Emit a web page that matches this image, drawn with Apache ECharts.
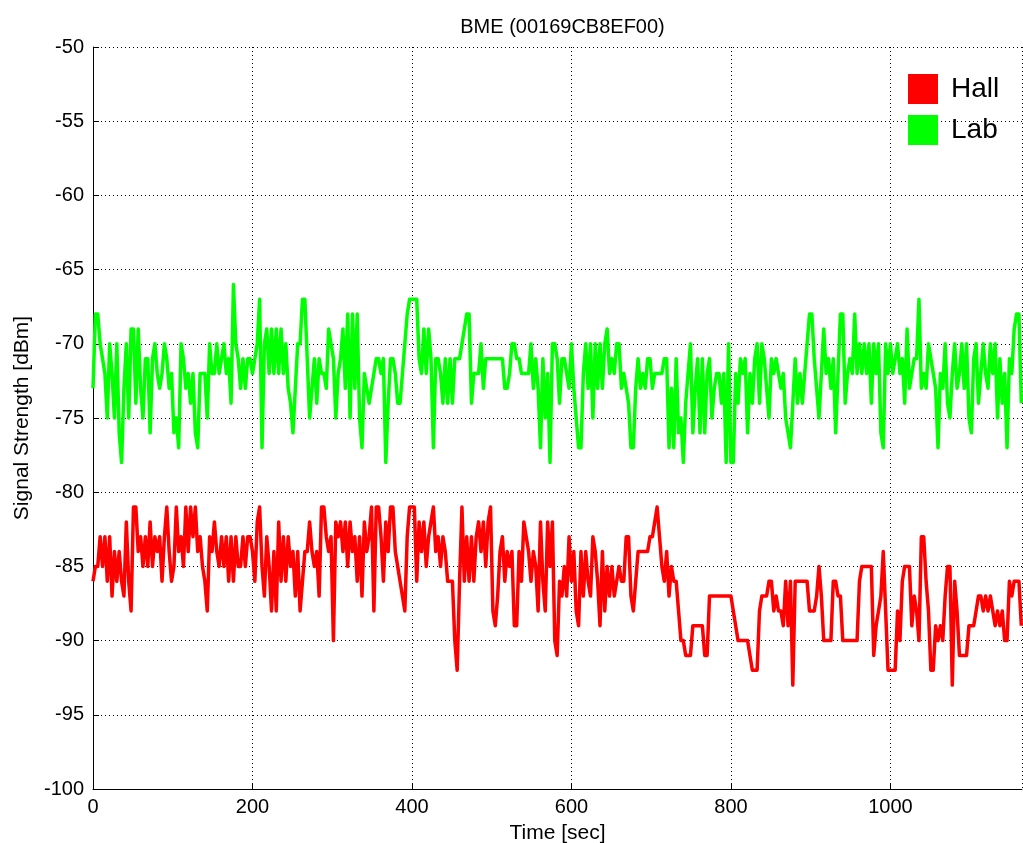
<!DOCTYPE html>
<html>
<head>
<meta charset="utf-8">
<title>BME (00169CB8EF00)</title>
<script src="https://cdn.jsdelivr.net/npm/echarts@6/dist/echarts.min.js"></script>
<style>
  html, body { margin: 0; padding: 0; background: #fff; }
  #chart { width: 1023px; height: 843px; }
</style>
</head>
<body>
<div id="chart"></div>
<script>
// RSSI log of one device, sampled at a fixed period (seconds)
const TITLE = 'BME (00169CB8EF00)';
const SAMPLE_PERIOD_SEC = 2.985;
const SERIES_NAMES = ['Hall', 'Lab'];
const X_RANGE = [0, 1165];
const Y_RANGE = [-100, -50];

// Signal strength in the hall [dBm]
const hallDbm = [
  -86,-85,-85,-83,-85,-83,-86,-83,-87,-84,-86,-84,-86,-87,-82,-86,-88,-81,-81,-84,-83,-85,-83,-85,-82,-85,-83,-84,-83,-86,-83,-81,-84,-86,-85,-81,-84,-83,-85,-81,-84,-81,-83,-81,-84,-83,-85,-86,-88,-83,-84,-82,-84,-85,-83,-85,-83,-86,-83,-86,-83,-85,-85,-83,-85,-83,-83,
  -84,-86,-82,-81,-85,-87,-83,-85,-88,-84,-88,-82,-86,-83,-86,-83,-85,-84,-87,-84,-88,-86,-84,-84,-82,-84,-85,-84,-87,-81,-81,-83,-84,-83,-90,-82,-83,-82,-84,-82,-85,-82,-84,-83,-86,-83,-87,-82,-84,-83,-81,-88,-81,-81,-83,-86,-82,-84,-81,-81,-84,-85,-86,-87,-88,-83,-81,
  -81,-81,-86,-82,-84,-82,-85,-83,-82,-81,-84,-83,-85,-83,-84,-86,-86,-86,-90,-92,-86,-81,-86,-83,-86,-83,-86,-83,-82,-84,-82,-85,-82,-81,-88,-89,-87,-84,-83,-86,-84,-85,-84,-89,-89,-84,-86,-82,-83,-84,-86,-84,-85,-88,-82,-86,-88,-82,-85,-82,-90,-91,-86,-87,-85,-87,-83,
  -86,-84,-88,-89,-84,-87,-84,-86,-87,-83,-84,-86,-89,-84,-88,-85,-87,-85,-87,-86,-85,-86,-86,-83,-83,-87,-88,-86,-84,-84,-84,-84,-84,-83,-83,-82,-81,-83,-85,-86,-84,-87,-85,-86,-86,-88,-90,-90,-91,-91,-91,-89,-89,-89,-89,-89,-91,-91,-87,-87,-87,-87,-87,-87,-87,-87,-87,
  -87,-88,-89,-90,-90,-90,-90,-90,-91,-92,-92,-92,-88,-87,-87,-87,-86,-86,-88,-87,-88,-88,-89,-86,-89,-86,-93,-86,-86,-86,-86,-86,-86,-88,-88,-88,-87,-85,-87,-90,-90,-90,-90,-86,-86,-87,-87,-90,-90,-90,-90,-90,-90,-90,-86,-85,-85,-85,-85,-85,-91,-89,-88,-87,-84,-88,-92,
  -92,-92,-92,-88,-90,-86,-85,-85,-85,-89,-87,-88,-90,-83,-83,-86,-88,-92,-92,-89,-90,-89,-90,-87,-85,-85,-93,-86,-88,-91,-91,-91,-91,-89,-89,-89,-88,-87,-87,-88,-87,-88,-87,-88,-89,-88,-89,-88,-90,-90,-86,-87,-86,-86,-86,-89
];

// Signal strength in the lab [dBm]
const labDbm = [
  -73,-68,-68,-70,-71,-72,-75,-70,-72,-75,-70,-76,-78,-73,-70,-75,-69,-69,-74,-69,-73,-75,-71,-71,-76,-71,-70,-72,-73,-72,-70,-71,-73,-72,-76,-75,-77,-70,-71,-73,-72,-74,-72,-76,-77,-72,-72,-72,-75,-70,-72,-72,-70,-72,-71,-70,-72,-71,-74,-66,-70,-71,-73,-71,-73,-71,-71,
  -72,-71,-70,-67,-77,-70,-69,-72,-69,-72,-69,-72,-69,-72,-70,-73,-74,-76,-73,-70,-70,-67,-67,-71,-75,-73,-71,-74,-71,-72,-72,-73,-69,-70,-71,-75,-72,-71,-69,-73,-68,-75,-68,-73,-68,-75,-77,-72,-73,-74,-73,-72,-71,-71,-72,-71,-78,-74,-71,-71,-72,-74,-74,-72,-70,-68,-67,
  -67,-67,-67,-71,-72,-69,-72,-69,-71,-77,-71,-71,-72,-74,-71,-74,-71,-74,-71,-71,-71,-70,-69,-68,-68,-74,-72,-72,-72,-70,-73,-71,-71,-71,-71,-71,-71,-71,-71,-73,-73,-72,-70,-70,-71,-71,-72,-72,-72,-72,-70,-73,-71,-73,-77,-71,-75,-72,-78,-70,-70,-71,-74,-71,-71,-72,-73,
  -70,-73,-75,-77,-77,-72,-70,-73,-70,-75,-70,-73,-70,-73,-70,-69,-72,-71,-72,-70,-70,-73,-72,-73,-74,-77,-77,-73,-71,-73,-72,-73,-71,-71,-73,-72,-72,-72,-72,-71,-71,-77,-73,-77,-71,-76,-75,-78,-74,-72,-70,-76,-73,-71,-76,-71,-76,-72,-71,-75,-73,-72,-72,-74,-72,-78,-70,
  -78,-78,-72,-74,-71,-72,-71,-76,-72,-74,-71,-70,-74,-70,-71,-73,-75,-71,-72,-71,-72,-73,-72,-75,-76,-77,-74,-71,-74,-72,-74,-72,-70,-68,-68,-71,-73,-75,-72,-69,-72,-71,-73,-71,-76,-72,-68,-68,-74,-72,-71,-72,-68,-72,-70,-72,-70,-72,-70,-74,-70,-72,-70,-76,-77,-70,-72,
  -70,-72,-71,-70,-72,-71,-74,-69,-73,-72,-71,-71,-67,-73,-72,-73,-70,-71,-72,-73,-77,-72,-73,-70,-74,-75,-72,-70,-73,-72,-70,-73,-70,-75,-76,-71,-70,-74,-72,-70,-72,-73,-70,-72,-70,-75,-71,-74,-72,-77,-71,-72,-69,-68,-68,-74
];

const FONT = '"Liberation Sans", Arial, Helvetica, sans-serif';

function toPoints(values) {
  return values.map((v, i) => [+(i * SAMPLE_PERIOD_SEC).toFixed(2), v]);
}

const chart = echarts.init(document.getElementById('chart'), null, { renderer: 'canvas' });

const dotted = { color: '#000', width: 1, type: [1, 3] };
const GRID = { left: 93, right: 1, top: 47, bottom: 54 };
const plotCenterX = GRID.left + (1023 - GRID.left - GRID.right) / 2;

chart.setOption({
  backgroundColor: '#fff',
  animation: false,
  title: {
    text: TITLE,
    left: plotCenterX,
    textAlign: 'center',
    top: 12,
    textStyle: { fontFamily: FONT, fontSize: 20, fontWeight: 'normal', color: '#000' }
  },
  legend: {
    orient: 'vertical',
    left: 903,
    top: 69,
    icon: 'rect',
    itemWidth: 30,
    itemHeight: 30,
    itemGap: 11,
    textStyle: { fontFamily: FONT, fontSize: 28, color: '#000', padding: [0, 0, 0, 8] },
    data: SERIES_NAMES
  },
  // fixed plot box; the axis name may run past the bottom edge
  grid: Object.assign({ containLabel: false, outerBoundsMode: 'none' }, GRID),
  xAxis: {
    type: 'value',
    min: X_RANGE[0],
    max: X_RANGE[1],
    interval: 200,
    name: 'Time [sec]',
    nameLocation: 'middle',
    nameGap: 34,
    nameTextStyle: { fontFamily: FONT, fontSize: 21, color: '#000' },
    axisLine: { show: true, lineStyle: { color: '#000', width: 1 } },
    axisTick: { show: true, inside: true, length: 6, lineStyle: { color: '#000' } },
    axisLabel: {
      fontFamily: FONT, fontSize: 20, color: '#000', margin: 8, showMaxLabel: false,
      formatter: (v) => String(v)
    },
    splitLine: { show: true, lineStyle: dotted }
  },
  yAxis: {
    type: 'value',
    min: Y_RANGE[0],
    max: Y_RANGE[1],
    interval: 5,
    name: 'Signal Strength [dBm]',
    nameLocation: 'middle',
    nameGap: 60,
    nameTextStyle: { fontFamily: FONT, fontSize: 21, color: '#000' },
    axisLine: { show: true, lineStyle: { color: '#000', width: 1 } },
    axisTick: { show: true, inside: true, length: 6, lineStyle: { color: '#000' } },
    axisLabel: { fontFamily: FONT, fontSize: 20, color: '#000', margin: 9 },
    splitLine: { show: true, lineStyle: dotted }
  },
  series: [
    {
      name: SERIES_NAMES[0],
      type: 'line',
      data: toPoints(hallDbm),
      showSymbol: false,
      lineStyle: { color: '#ff0000', width: 3.5, join: 'round' },
      itemStyle: { color: '#ff0000' }
    },
    {
      name: SERIES_NAMES[1],
      type: 'line',
      data: toPoints(labDbm),
      showSymbol: false,
      lineStyle: { color: '#00ff00', width: 3.5, join: 'round' },
      itemStyle: { color: '#00ff00' }
    }
  ]
});
</script>
</body>
</html>
